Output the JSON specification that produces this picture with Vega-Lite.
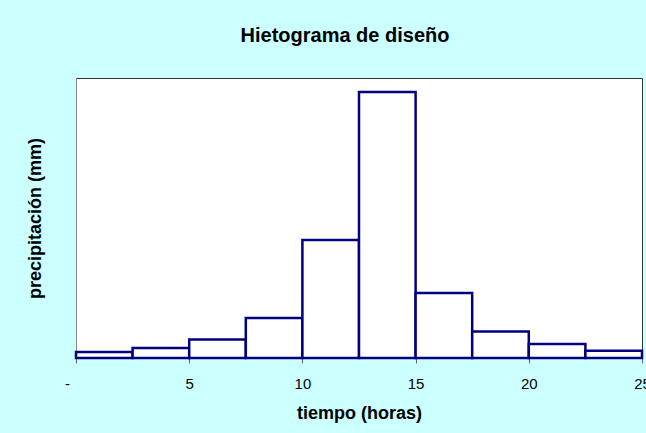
{
  "$schema": "https://vega.github.io/schema/vega-lite/v6.json",
  "width": 566,
  "height": 280,
  "autosize": {"type": "none"},
  "padding": {"left": 76, "top": 78, "right": 4, "bottom": 75},
  "background": "#CCFFFF",
  "title": {
    "text": "Hietograma de diseño",
    "font": "Liberation Sans",
    "fontSize": 20,
    "fontWeight": "bold",
    "color": "#000000",
    "anchor": "middle",
    "frame": "group",
    "dx": -14,
    "offset": 32
  },
  "config": {
    "view": {"fill": "#FFFFFF", "stroke": "#333333", "strokeWidth": 1}
  },
  "data": {
    "values": [
      {"inicio": 0.0, "fin": 2.5, "precipitacion": 1.5},
      {"inicio": 2.5, "fin": 5.0, "precipitacion": 2.5},
      {"inicio": 5.0, "fin": 7.5, "precipitacion": 4.6},
      {"inicio": 7.5, "fin": 10.0, "precipitacion": 10.0},
      {"inicio": 10.0, "fin": 12.5, "precipitacion": 29.5},
      {"inicio": 12.5, "fin": 15.0, "precipitacion": 66.5},
      {"inicio": 15.0, "fin": 17.5, "precipitacion": 16.25},
      {"inicio": 17.5, "fin": 20.0, "precipitacion": 6.6},
      {"inicio": 20.0, "fin": 22.5, "precipitacion": 3.5},
      {"inicio": 22.5, "fin": 25.0, "precipitacion": 1.8}
    ]
  },
  "mark": {"type": "rect", "fill": "#FFFFFF", "stroke": "#000080", "strokeWidth": 2.5},
  "encoding": {
    "x": {
      "field": "inicio",
      "type": "quantitative",
      "scale": {"domain": [0, 25], "nice": false, "zero": false},
      "axis": {
        "values": [0, 5, 10, 15, 20, 25],
        "labelExpr": "datum.value == 0 ? '-' : datum.label",
        "labelOffset": {"condition": {"test": "datum.value == 0", "value": -9}, "value": 0},
        "grid": false,
        "domainColor": "#666666",
        "tickColor": "#666666",
        "tickSize": 5,
        "labelPadding": 13,
        "labelFont": "Liberation Sans",
        "labelFontSize": 15,
        "labelColor": "#000000",
        "labelFlush": false,
        "labelOverlap": false,
        "title": "tiempo (horas)",
        "titleFont": "Liberation Sans",
        "titleFontSize": 18,
        "titleFontWeight": "bold",
        "titleColor": "#000000",
        "titlePadding": 13
      }
    },
    "x2": {"field": "fin"},
    "y": {
      "field": "precipitacion",
      "type": "quantitative",
      "scale": {"domain": [0, 70], "nice": false},
      "axis": {
        "grid": false,
        "labels": false,
        "ticks": false,
        "domain": true,
        "domainColor": "#888888",
        "title": "precipitación (mm)",
        "titleFont": "Liberation Sans",
        "titleFontSize": 18,
        "titleFontWeight": "bold",
        "titleColor": "#000000",
        "titlePadding": 32
      }
    },
    "y2": {"datum": 0}
  }
}
